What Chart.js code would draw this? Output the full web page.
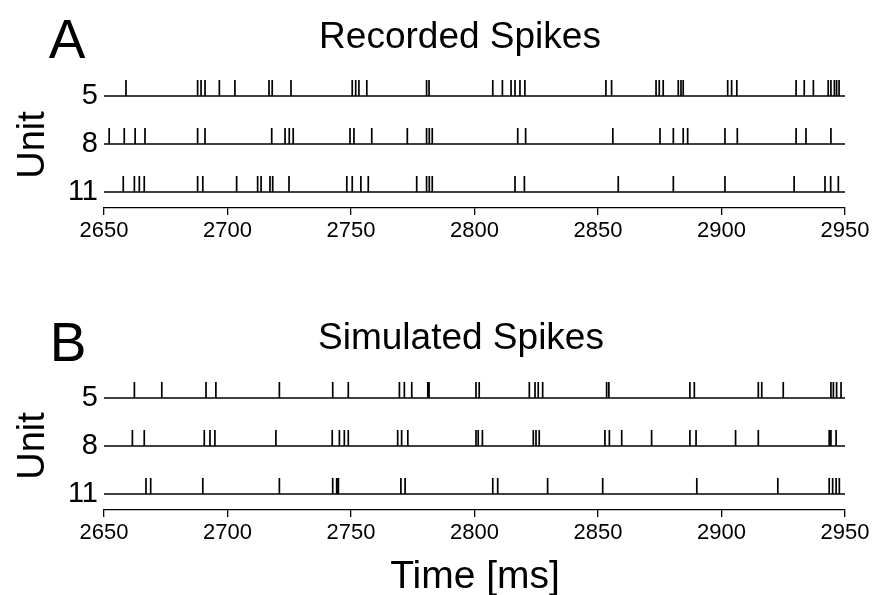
<!DOCTYPE html>
<html>
<head>
<meta charset="utf-8">
<script src="https://cdn.jsdelivr.net/npm/chart.js@4/dist/chart.umd.min.js"></script>
<style>
  html, body { margin: 0; padding: 0; background: #fff; }
  #wrap { position: relative; width: 880px; height: 595px; background: #fff; overflow: hidden;
          font-family: "Liberation Sans", Arial, Helvetica, sans-serif; color: #000; }
  canvas { position: absolute; left: 0; }
  .lbl { position: absolute; line-height: 1; white-space: nowrap; transform: translate(-50%, -50%); }
  .rot { transform: translate(-50%, -50%) rotate(-90deg); }
</style>
</head>
<body>
<div id="wrap">
  <canvas id="panelA" width="880" height="298" style="top:0"></canvas>
  <canvas id="panelB" width="880" height="297" style="top:298px"></canvas>
  <div class="lbl" style="left:67px;top:39px;font-size:55px">A</div>
  <div class="lbl" style="left:460px;top:35px;font-size:37px">Recorded Spikes</div>
  <div class="lbl rot" style="left:31px;top:145px;font-size:38px">Unit</div>
  <div class="lbl" style="left:68px;top:342px;font-size:55px">B</div>
  <div class="lbl" style="left:461px;top:336px;font-size:37px">Simulated Spikes</div>
  <div class="lbl rot" style="left:31px;top:446px;font-size:38px">Unit</div>
  <div class="lbl" style="left:475px;top:574px;font-size:39px">Time [ms]</div>
</div>
<script>
// Time axis
const T_MIN = 2650;
const T_MAX = 2950;
const TIME_TICKS = [2650, 2700, 2750, 2800, 2850, 2900, 2950];

// Units, listed top to bottom
const UNITS = ['5', '8', '11'];

// Recorded spike times [ms]
const recUnit5 = [2658.9, 2687.9, 2689.3, 2690.9, 2696.7, 2703.0, 2716.8, 2718.1, 2725.7,
  2750.5, 2751.9, 2753.2, 2756.4, 2780.6, 2781.6, 2807.4, 2811.3, 2814.8, 2816.4, 2818.4,
  2820.4, 2853.2, 2855.5, 2873.5, 2874.8, 2876.4, 2882.5, 2883.6, 2884.5, 2902.5, 2904.1,
  2906.2, 2930.2, 2933.5, 2937.2, 2943.2, 2944.3, 2945.7, 2946.6, 2947.6];
const recUnit8 = [2652.1, 2658.2, 2662.6, 2666.6, 2687.9, 2690.9, 2717.9, 2723.3, 2725.0,
  2726.6, 2749.6, 2751.2, 2758.4, 2772.8, 2780.6, 2781.7, 2782.9, 2817.5, 2820.7, 2856.0,
  2875.1, 2880.5, 2884.5, 2886.3, 2901.4, 2906.4, 2930.2, 2934.2, 2944.3];
const recUnit11 = [2657.8, 2662.3, 2664.3, 2666.3, 2687.9, 2690.0, 2703.7, 2712.2, 2713.6,
  2717.2, 2718.3, 2724.9, 2748.3, 2750.5, 2754.0, 2757.0, 2776.6, 2780.6, 2781.7, 2782.9,
  2816.4, 2820.2, 2858.2, 2880.5, 2901.4, 2929.4, 2941.9, 2944.2, 2947.3];

// Simulated spike times [ms]
const simUnit5 = [2662.3, 2673.4, 2691.3, 2695.3, 2721.0, 2742.6, 2748.9, 2769.6, 2771.6,
  2774.6, 2781.1, 2781.6, 2800.6, 2801.9, 2822.2, 2824.5, 2825.8, 2827.6, 2853.5, 2854.4,
  2887.2, 2889.0, 2914.9, 2916.3, 2925.0, 2944.3, 2945.3, 2946.6, 2948.4];
const simUnit8 = [2661.5, 2666.3, 2690.6, 2692.9, 2694.9, 2719.6, 2742.4, 2745.3, 2747.3,
  2748.9, 2768.9, 2770.5, 2773.0, 2800.6, 2801.5, 2803.2, 2823.8, 2824.9, 2826.2, 2852.8,
  2854.6, 2859.6, 2871.7, 2887.2, 2889.7, 2905.7, 2914.9, 2943.6, 2944.3, 2946.4];
const simUnit11 = [2667.0, 2668.9, 2690.0, 2721.0, 2742.6, 2744.2, 2744.9, 2770.2, 2771.9,
  2807.4, 2809.4, 2829.6, 2851.9, 2890.0, 2922.8, 2943.6, 2945.0, 2946.4, 2947.7];

// Row layout in y units: top unit sits at the highest value
const SPIKE_H = 1 / 3;
const FONT = '"Liberation Sans", Arial, Helvetica, sans-serif';

function rowValue(i) { return UNITS.length - 1 - i; }

// One segment per spike, separated by null gaps
function spikeSegments(times, row) {
  const pts = [];
  times.forEach(t => {
    pts.push({ x: t, y: row }, { x: t, y: row + SPIKE_H }, { x: t, y: null });
  });
  return pts;
}

function buildDatasets(units) {
  const ds = [];
  units.forEach((times, i) => {
    const row = rowValue(i);
    ds.push({
      data: [{ x: T_MIN, y: row }, { x: T_MAX, y: row }],
      borderColor: '#000', borderWidth: 1.3, pointRadius: 0, showLine: true
    });
    ds.push({
      data: spikeSegments(times, row),
      borderColor: '#000', borderWidth: 1.7, pointRadius: 0, showLine: true,
      spanGaps: false, borderCapStyle: 'butt'
    });
  });
  return ds;
}

function makePanel(id, units, padTop, padBottom) {
  return new Chart(document.getElementById(id), {
    type: 'scatter',
    data: { datasets: buildDatasets(units) },
    options: {
      responsive: false,
      animation: false,
      events: [],
      layout: { padding: { left: 0, right: 35, top: padTop, bottom: padBottom } },
      plugins: { legend: { display: false }, tooltip: { enabled: false }, title: { display: false } },
      scales: {
        x: {
          type: 'linear', min: T_MIN, max: T_MAX,
          afterBuildTicks: s => { s.ticks = TIME_TICKS.map(v => ({ value: v })); },
          afterFit: s => { s.height = 40; },
          border: { display: true, color: '#000', width: 1.3 },
          grid: { display: true, drawOnChartArea: false, drawTicks: true, tickLength: 7, color: '#000', lineWidth: 1.3 },
          ticks: { color: '#000', padding: 3, maxRotation: 0, autoSkip: false,
                   font: { family: FONT, size: 22 }, callback: v => String(v) }
        },
        y: {
          type: 'linear', min: -1 / 3, max: 2.5,
          afterBuildTicks: s => { s.ticks = UNITS.map((u, i) => ({ value: rowValue(i) })); },
          afterFit: s => { s.width = 104; },
          border: { display: false },
          grid: { display: false, drawTicks: false },
          ticks: { color: '#000', padding: 6, autoSkip: false,
                   font: { family: FONT, size: 29 },
                   callback: v => UNITS[UNITS.length - 1 - Math.round(v)] }
        }
      }
    }
  });
}

makePanel('panelA', [recUnit5, recUnit8, recUnit11], 72, 50);
makePanel('panelB', [simUnit5, simUnit8, simUnit11], 76, 45);
</script>
</body>
</html>
